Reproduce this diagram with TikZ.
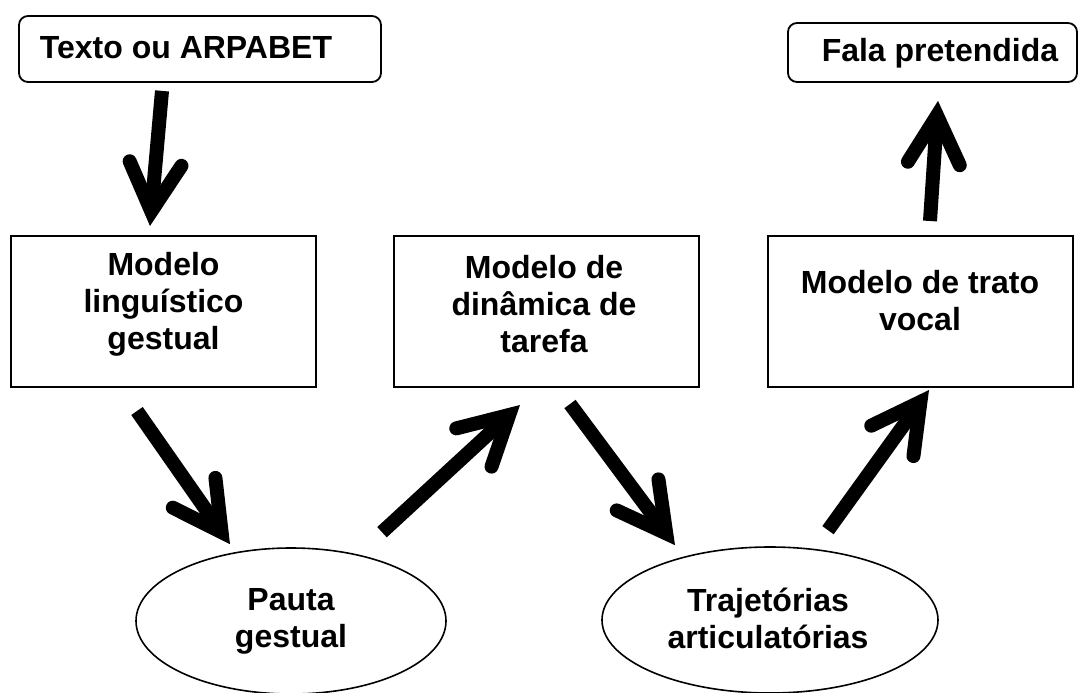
\documentclass[tikz,border=0pt]{standalone}
\usepackage{fontspec}
\setmainfont{Liberation Sans}
\usetikzlibrary{arrows.meta,shapes.geometric,calc}
\begin{document}
\begin{tikzpicture}[x=1pt,y=-1pt,
  every node/.style={font=\fontsize{32}{37}\selectfont\bfseries, align=center, inner sep=0pt},
  rbox/.style={draw, line width=1.8pt, rounded corners=9pt, minimum width=#1, minimum height=66pt},
  mbox/.style={draw, line width=2pt, minimum width=305pt, minimum height=151pt},
  oval/.style={draw, ellipse, line width=1.6pt, minimum width=#1, minimum height=146pt},
  lbl/.style={},
  bigarrow/.style={line width=14pt, -{Straight Barb[length=48pt, width=52pt, line cap=round]}}
]
\useasboundingbox (0,0) rectangle (1082,693);
% nodes
\node[rbox=362pt] (tb) at (200,49) {};
\node[lbl] (tbt) at (186,48) {Texto ou ARPABET};
\node[rbox=289pt, minimum height=59pt] (fp) at (932.5,52.5) {};
\node[lbl] (fpt) at (940,53) {Fala pretendida};
\node[mbox] (m1) at (163.5,311.5) {};
\node[lbl] (m1t) at (163.5,304) {Modelo\\linguístico\\gestual};
\node[mbox] (m2) at (546,311.5) {};
\node[lbl] (m2t) at (544,304) {Modelo de\\dinâmica de\\tarefa};
\node[mbox] (m3) at (920,311.5) {};
\node[lbl] (m3t) at (920,301) {Modelo de trato\\vocal};
\node[oval=310pt] (p1) at (291,621) {};
\node[lbl] (p1t) at (291,621) {Pauta\\gestual};
\node[oval=336pt] (p2) at (770,620) {};
\node[lbl] (p2t) at (768,618) {Trajetórias\\articulatórias};
% arrows
\draw[bigarrow] ($(tb.south)+(-38,8)$) -- ($(m1.north)+(-13.5,-9)$);
\draw[bigarrow] ($(m1.south)+(-26.5,23)$) -- ($(p1.north)+(-61,-3)$);
\draw[bigarrow] ($(p1.north)+(91,-15)$) -- ($(m2.south)+(-26,17)$);
\draw[bigarrow] ($(m2.south)+(24,16)$) -- ($(p2.north)+(-95,-1)$);
\draw[bigarrow] ($(p2.north)+(58,-16)$) -- ($(m3.south)+(9,2)$);
\draw[bigarrow] ($(m3.north)+(10,-14)$) -- ($(fp.south)+(5.5,18)$);
\end{tikzpicture}
\end{document}
